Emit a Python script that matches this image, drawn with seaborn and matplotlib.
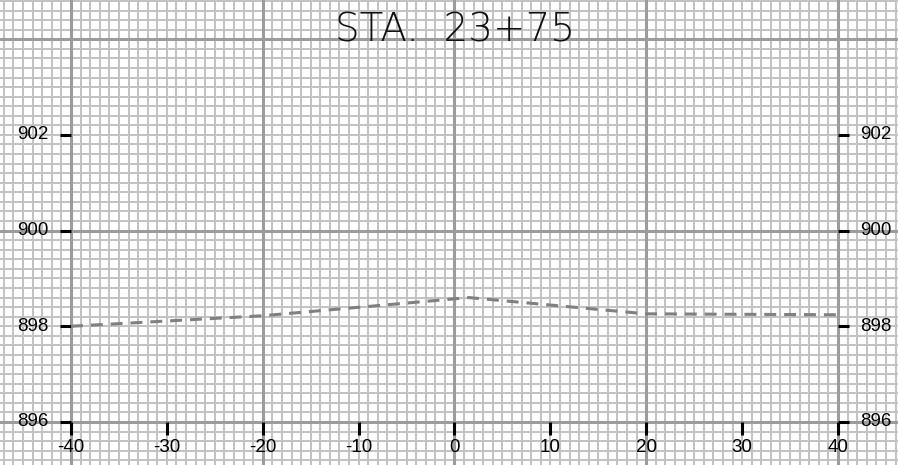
import matplotlib
matplotlib.use("Agg")
import matplotlib.pyplot as plt
import matplotlib.transforms as mtransforms
from matplotlib.ticker import MultipleLocator, FixedLocator, NullLocator
import seaborn as sns
import pandas as pd

# Cross-section ground profile (offset from centerline, elevation)
offsets = [-40, -20, 1.5, 20, 40]
elevations = [898.00, 898.22, 898.60, 898.26, 898.24]

x_ticks = [-40, -30, -20, -10, 0, 10, 20, 30, 40]
y_ticks = [896, 898, 900, 902]
station_label = "STA.  23+75"

sns.set_style("white")
plt.rcParams["font.family"] = ["Liberation Sans", "DejaVu Sans"]

fig = plt.figure(figsize=(8.98, 4.65), dpi=100)

xlim = (-47.405, 46.258)
ylim = (895.10, 904.82)


def sheet(step_x, step_y, color, lw, face):
    """One layer of the grid paper."""
    g = fig.add_axes([0, 0, 1, 1], facecolor=face)
    g.set_xlim(*xlim)
    g.set_ylim(*ylim)
    g.xaxis.set_major_locator(MultipleLocator(step_x))
    g.yaxis.set_major_locator(MultipleLocator(step_y))
    g.xaxis.set_minor_locator(NullLocator())
    g.yaxis.set_minor_locator(NullLocator())
    g.grid(which="major", color=color, linewidth=lw)
    g.tick_params(which="both", length=0, labelbottom=False, labelleft=False)
    for s in g.spines.values():
        s.set_visible(False)
    return g


# Fine 1 x 0.2 ruling, then heavy 20 x 4 ruling on top
sheet(1, 0.2, "#c2c2c2", 1.4, "white")
sheet(20, 4, "#9c9c9c", 2.2, "none")

# Profile axes with ticks anchored at the section limits
ax = fig.add_axes([0, 0, 1, 1], facecolor="none")
ax.set_xlim(*xlim)
ax.set_ylim(*ylim)

profile = pd.DataFrame({"offset": offsets, "elevation": elevations})
sns.lineplot(data=profile, x="offset", y="elevation", ax=ax, color="#808080",
             linewidth=2.2, linestyle=(0, (3.9, 2.6)))

ax.spines["left"].set_position(("data", -40))
ax.spines["right"].set_position(("data", 40))
ax.spines["bottom"].set_position(("data", 896))
for s in ax.spines.values():
    s.set_visible(False)

ax.xaxis.set_major_locator(FixedLocator(x_ticks))
ax.yaxis.set_major_locator(FixedLocator(y_ticks))
ax.set_xticklabels([str(v) for v in x_ticks])
ax.set_yticklabels([str(v) for v in y_ticks])
ax.set_xlabel("")
ax.set_ylabel("")
ax.grid(False)

ax.tick_params(axis="y", which="major", direction="out", length=8, width=2.2,
               color="black", left=True, right=True, labelleft=True,
               labelright=True, pad=8, labelsize=13.5, labelcolor="black")
ax.tick_params(axis="x", which="major", direction="out", length=9.5, width=2.2,
               color="black", bottom=True, top=False, labelbottom=True,
               pad=3, labelsize=13.5, labelcolor="black")
ax.tick_params(which="minor", length=0)

lift = mtransforms.ScaledTranslation(0, 2 / 100, fig.dpi_scale_trans)
for lbl in ax.yaxis.get_majorticklabels():
    lbl.set_transform(lbl.get_transform() + lift)

ax.text(0.5067, 1 - 30 / 465, station_label, transform=fig.transFigure,
        ha="center", va="center", fontsize=28, family=["DejaVu Sans"],
        fontweight="light", color="#111111")

fig.savefig("out.png", dpi=100)
